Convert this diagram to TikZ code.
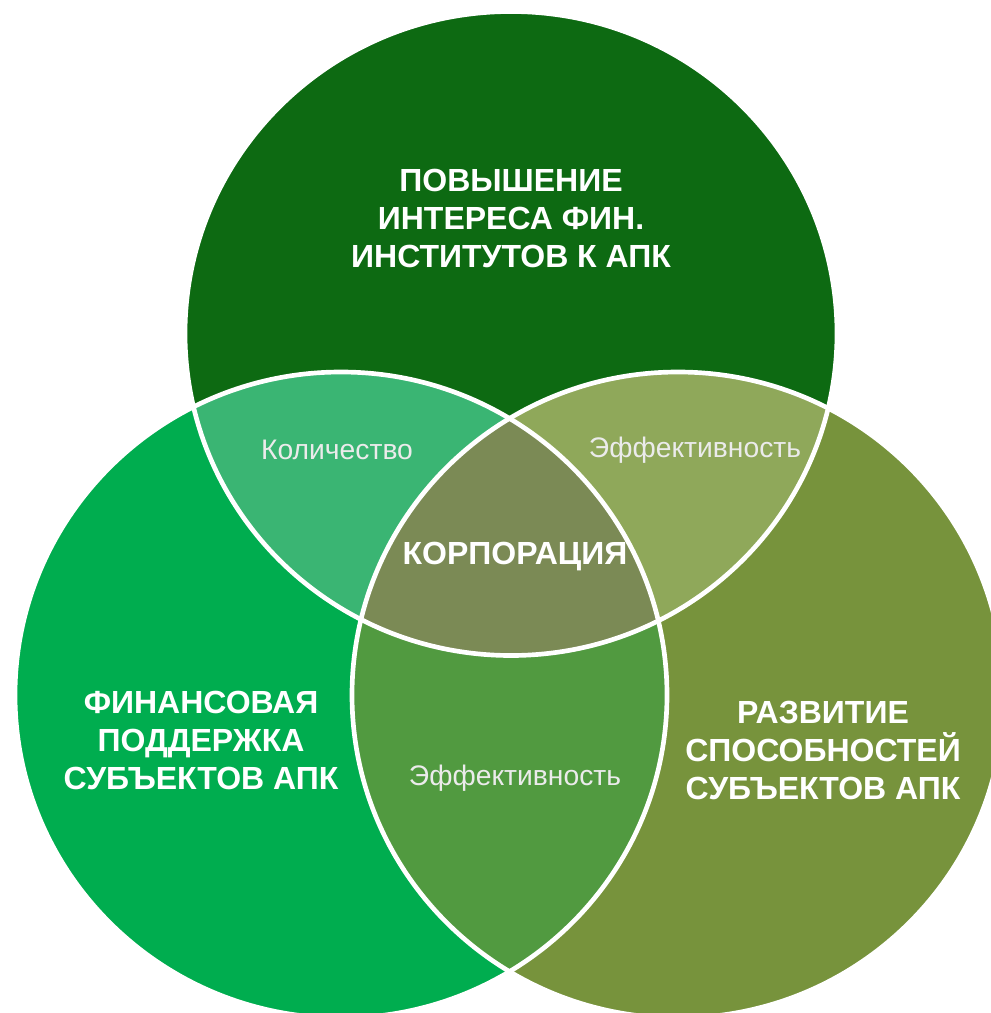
\documentclass[tikz,border=0pt]{standalone}
\usepackage{fontspec}
\setmainfont{Liberation Sans}

\definecolor{topgreen}{RGB}{13,106,18}
\definecolor{leftgreen}{RGB}{0,173,79}
\definecolor{rightolive}{RGB}{119,147,60}
\definecolor{tlgreen}{RGB}{58,181,115}
\definecolor{trolive}{RGB}{143,168,90}
\definecolor{lrgreen}{RGB}{81,154,64}
\definecolor{midolive}{RGB}{123,138,85}

\def\circTop{(511,333.5) ellipse [x radius=326, y radius=322]}
\def\circLeft{(341,695) ellipse [x radius=326, y radius=323]}
\def\circRight{(678,695) ellipse [x radius=326, y radius=323]}

\begin{document}
\begin{tikzpicture}[x=0.75pt,y=0.75pt,yscale=-1,xscale=1,
  bigtext/.style={text=white,align=center,inner sep=0.75pt,font=\bfseries\fontsize{24}{28.5}\selectfont},
  smalltext/.style={text=white!92!black,inner sep=0.75pt,font=\fontsize{21.2}{25}\selectfont},
  rim/.style={draw=white,line width=3.5pt}]
\useasboundingbox (0,0) rectangle (991,1013);
\begin{scope}
\clip (0,0) rectangle (991,1013);
%Shape: Circle [top]
\fill [topgreen] \circTop;
%Shape: Circle [left]
\fill [leftgreen] \circLeft;
%Shape: Circle [right]
\fill [rightolive] \circRight;
% overlaps
\begin{scope}
  \clip \circTop;
  \fill [tlgreen] \circLeft;
  \fill [trolive] \circRight;
\end{scope}
\begin{scope}
  \clip \circLeft;
  \fill [lrgreen] \circRight;
\end{scope}
\begin{scope}
  \clip \circTop;
  \clip \circLeft;
  \fill [midolive] \circRight;
\end{scope}
% white rims
\draw [rim] \circTop;
\draw [rim] \circLeft;
\draw [rim] \circRight;
\end{scope}
% Text Node
\node [bigtext] (fin) at (511,218) {ПОВЫШЕНИЕ\\ИНТЕРЕСА ФИН.\\ИНСТИТУТОВ К АПК};
% Text Node
\node [bigtext] (sup) at (201,740) {ФИНАНСОВАЯ\\ПОДДЕРЖКА\\СУБЪЕКТОВ АПК};
% Text Node
\node [bigtext] (dev) at (823,750) {РАЗВИТИЕ\\СПОСОБНОСТЕЙ\\СУБЪЕКТОВ АПК};
% Text Node
\node [bigtext] (corp) at (515,557) {КОРПОРАЦИЯ};
% Text Node
\node [smalltext] (qty) at (337,450) {Количество};
% Text Node
\node [smalltext] (effTop) at (695,450) {Эффективность};
% Text Node
\node [smalltext] (effBot) at (515,778) {Эффективность};
\end{tikzpicture}
\end{document}
